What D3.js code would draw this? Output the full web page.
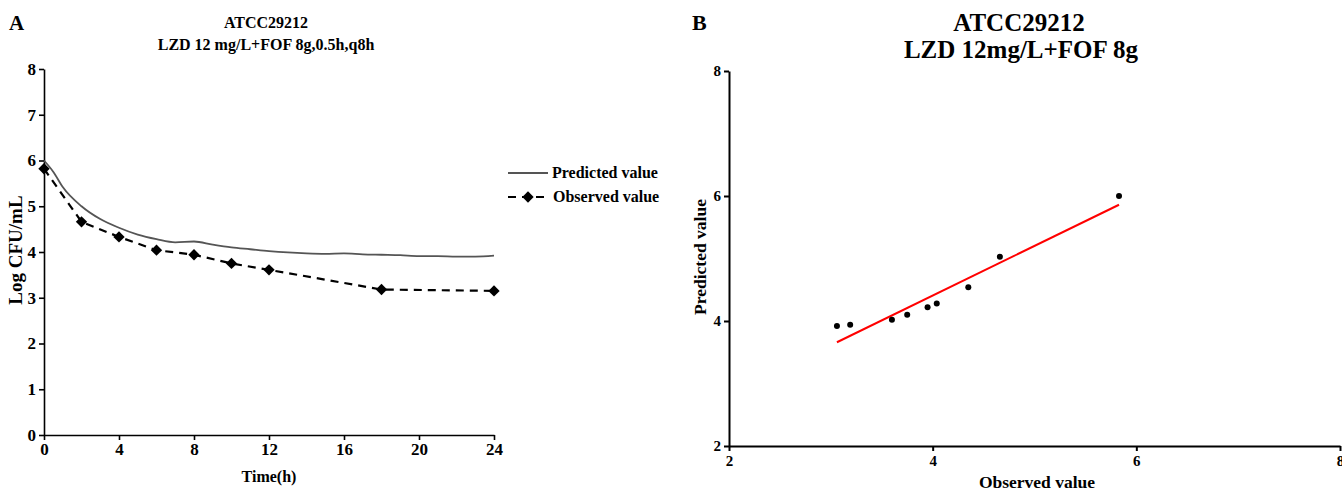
<!DOCTYPE html>
<html lang="en">
<head>
    <meta charset="UTF-8">
    <title>ATCC29212 LZD + FOF</title>
    <style>
        body { margin: 0; background: #fff; }
        svg { display: block; }
        text { font-family: "Liberation Serif", "Times New Roman", serif; font-weight: bold; fill: #000; }
    </style>
</head>
<body>
    <svg id="chart" width="1342" height="491"></svg>

    <script src="https://d3js.org/d3.v7.min.js"></script>
    <script>
        // Panel A: time-kill curve
        var timePred = [0, 0.5, 1, 2, 3, 4, 5, 6, 7, 8, 9, 10, 11, 12, 13, 14, 15, 16, 17, 18, 19, 20, 21, 22, 23, 24];
        var logPred = [6.0, 5.75, 5.42, 5.0, 4.72, 4.53, 4.38, 4.28, 4.21, 4.23, 4.16, 4.10, 4.06, 4.02, 3.99, 3.97, 3.96, 3.97, 3.95, 3.94, 3.93, 3.91, 3.91, 3.90, 3.90, 3.92];
        var timeObs = [0, 2, 4, 6, 8, 10, 12, 18, 24];
        var logObs = [5.82, 4.66, 4.33, 4.04, 3.94, 3.75, 3.61, 3.18, 3.15];
        var timeTicks = [0, 4, 8, 12, 16, 20, 24];
        var logTicks = [0, 1, 2, 3, 4, 5, 6, 7, 8];

        // Panel B: observed vs predicted
        var obsVal = [3.06, 3.19, 3.60, 3.75, 3.95, 4.04, 4.35, 4.66, 5.83];
        var predVal = [3.92, 3.94, 4.02, 4.10, 4.22, 4.28, 4.54, 5.03, 6.00];
        var fitX = [3.06, 5.83];
        var fitY = [3.66, 5.86];
        var bTicks = [2, 4, 6, 8];

        var svg = d3.select('#chart');

        // ---------- Panel A ----------
        var a = svg.append('g');
        var xA = d3.scaleLinear().domain([0, 24]).range([44, 494]);
        var yA = d3.scaleLinear().domain([0, 8]).range([435, 69]);

        var axA = a.append('g')
            .attr('transform', 'translate(0,' + yA(0) + ')')
            .call(d3.axisBottom(xA).tickValues(timeTicks).tickSize(5).tickSizeOuter(0).tickPadding(3));
        var ayA = a.append('g')
            .attr('transform', 'translate(' + xA(0) + ',0)')
            .call(d3.axisLeft(yA).tickValues(logTicks).tickSize(5).tickSizeOuter(0).tickPadding(3));
        [axA, ayA].forEach(function(g) {
            g.selectAll('path, line').attr('stroke', '#000').attr('stroke-width', 1.6);
            g.selectAll('text').style('font-size', '17px').style('font-family', null).attr('fill', '#000');
        });

        var predLine = d3.line()
            .x(function(d, i) { return xA(timePred[i]); })
            .y(function(d) { return yA(d); })
            .curve(d3.curveMonotoneX);
        a.append('path')
            .datum(logPred)
            .attr('d', predLine)
            .attr('fill', 'none')
            .attr('stroke', '#555')
            .attr('stroke-width', 1.8);

        var obsLine = d3.line()
            .x(function(d, i) { return xA(timeObs[i]); })
            .y(function(d) { return yA(d); });
        a.append('path')
            .datum(logObs)
            .attr('d', obsLine)
            .attr('fill', 'none')
            .attr('stroke', '#000')
            .attr('stroke-width', 2.2)
            .attr('stroke-dasharray', '8,6');

        var diamond = d3.symbol().type(d3.symbolSquare).size(64);
        a.selectAll('.obs')
            .data(logObs)
            .enter().append('path')
            .attr('class', 'obs')
            .attr('d', diamond)
            .attr('transform', function(d, i) { return 'translate(' + xA(timeObs[i]) + ',' + yA(d) + ') rotate(45)'; })
            .attr('fill', '#000');

        // titles and labels
        a.append('text').attr('x', 9).attr('y', 30).style('font-size', '21px').text('A');
        a.append('text').attr('x', 266).attr('y', 28).attr('text-anchor', 'middle').style('font-size', '16px').text('ATCC29212');
        a.append('text').attr('x', 266).attr('y', 50).attr('text-anchor', 'middle').style('font-size', '16px').text('LZD 12 mg/L+FOF 8g,0.5h,q8h');
        a.append('text').attr('x', xA(12)).attr('y', 482).attr('text-anchor', 'middle').style('font-size', '16px').text('Time(h)');
        a.append('text')
            .attr('transform', 'translate(22,250) rotate(-90)')
            .attr('text-anchor', 'middle')
            .style('font-size', '19px')
            .text('Log CFU/mL');

        // legend
        var lg = a.append('g');
        lg.append('line').attr('x1', 508).attr('x2', 548).attr('y1', 173).attr('y2', 173)
            .attr('stroke', '#555').attr('stroke-width', 1.8);
        lg.append('text').attr('x', 552).attr('y', 178).style('font-size', '16px').text('Predicted value');
        lg.append('line').attr('x1', 508).attr('x2', 544).attr('y1', 197).attr('y2', 197)
            .attr('stroke', '#000').attr('stroke-width', 2.2).attr('stroke-dasharray', '8,6');
        lg.append('path').attr('d', diamond).attr('transform', 'translate(528,197) rotate(45)').attr('fill', '#000');
        lg.append('text').attr('x', 553).attr('y', 202).style('font-size', '16px').text('Observed value');

        // ---------- Panel B ----------
        var b = svg.append('g');
        var xB = d3.scaleLinear().domain([2, 8]).range([729, 1340]);
        var yB = d3.scaleLinear().domain([2, 8]).range([446, 71]);

        var axB = b.append('g')
            .attr('transform', 'translate(0,' + yB(2) + ')')
            .call(d3.axisBottom(xB).tickValues(bTicks).tickFormat(d3.format('d')).tickSize(5).tickSizeOuter(0).tickPadding(4));
        var ayB = b.append('g')
            .attr('transform', 'translate(' + xB(2) + ',0)')
            .call(d3.axisLeft(yB).tickValues(bTicks).tickFormat(d3.format('d')).tickSize(5).tickSizeOuter(0).tickPadding(3));
        [axB, ayB].forEach(function(g) {
            g.selectAll('path, line').attr('stroke', '#000').attr('stroke-width', 2);
            g.selectAll('text').style('font-size', '15px').style('font-family', null).attr('fill', '#000');
        });

        b.append('line')
            .attr('x1', xB(fitX[0])).attr('y1', yB(fitY[0]))
            .attr('x2', xB(fitX[1])).attr('y2', yB(fitY[1]))
            .attr('stroke', '#f00')
            .attr('stroke-width', 2);

        b.selectAll('.dot')
            .data(predVal)
            .enter().append('circle')
            .attr('class', 'dot')
            .attr('cx', function(d, i) { return xB(obsVal[i]); })
            .attr('cy', function(d) { return yB(d); })
            .attr('r', 3)
            .attr('fill', '#000');

        b.append('text').attr('x', 692).attr('y', 30).style('font-size', '22px').text('B');
        b.append('text').attr('x', 1019).attr('y', 31).attr('text-anchor', 'middle').style('font-size', '25px').text('ATCC29212');
        b.append('text').attr('x', 1021).attr('y', 58).attr('text-anchor', 'middle').style('font-size', '25px').text('LZD 12mg/L+FOF 8g');
        b.append('text').attr('x', 1037).attr('y', 488).attr('text-anchor', 'middle').style('font-size', '17.5px').text('Observed value');
        b.append('text')
            .attr('transform', 'translate(706,257) rotate(-90)')
            .attr('text-anchor', 'middle')
            .style('font-size', '17.5px')
            .text('Predicted value');
    </script>
</body>
</html>
